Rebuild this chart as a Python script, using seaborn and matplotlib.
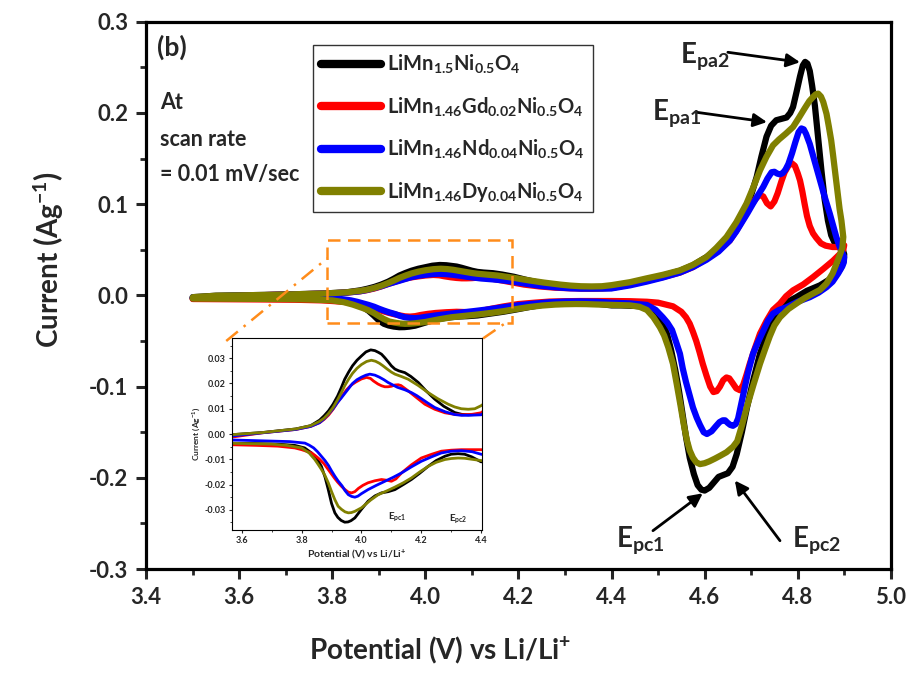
import numpy as np
import pandas as pd
import matplotlib
matplotlib.use("Agg")
import matplotlib.pyplot as plt
import seaborn as sns
from matplotlib.ticker import MultipleLocator, FormatStrFormatter
from matplotlib.patches import Rectangle

# ---------------- data ----------------
samples = ["LiMn1.5Ni0.5O4", "LiMn1.46Gd0.02Ni0.5O4", "LiMn1.46Nd0.04Ni0.5O4", "LiMn1.46Dy0.04Ni0.5O4"]
legend_labels = [r"$\mathbf{LiMn_{1.5}Ni_{0.5}O_4}$",
                 r"$\mathbf{LiMn_{1.46}Gd_{0.02}Ni_{0.5}O_4}$",
                 r"$\mathbf{LiMn_{1.46}Nd_{0.04}Ni_{0.5}O_4}$",
                 r"$\mathbf{LiMn_{1.46}Dy_{0.04}Ni_{0.5}O_4}$"]
colors = ["#000000", "#FF0000", "#0000FF", "#808000"]

# (potential V, current A/g) pairs; anodic sweep 3.5 -> 4.9 V, cathodic sweep 4.9 -> 3.5 V
black_anodic = [(3.50, -0.0020), (3.55, -0.0004), (3.67, 0.0006), (3.78, 0.0020), (3.83, 0.0033),
                (3.86, 0.0055), (3.875, 0.0072), (3.89, 0.0092), (3.905, 0.0118), (3.92, 0.0150),
                (3.932, 0.0182), (3.944, 0.0217), (3.957, 0.0245), (3.97, 0.0270), (3.985, 0.0292),
                (4.00, 0.0309), (4.015, 0.0325), (4.031, 0.0333), (4.045, 0.0330), (4.057, 0.0323),
                (4.067, 0.0316), (4.078, 0.0302), (4.09, 0.0285), (4.10, 0.0270), (4.112, 0.0257),
                (4.125, 0.0250), (4.145, 0.0243), (4.165, 0.0228), (4.19, 0.0204), (4.215, 0.0172),
                (4.245, 0.0138), (4.275, 0.0110), (4.312, 0.0085), (4.335, 0.0078), (4.357, 0.0076),
                (4.38, 0.0077), (4.40, 0.0081), (4.44, 0.0120), (4.475, 0.0170), (4.51, 0.0215),
                (4.547, 0.0270), (4.575, 0.0330), (4.604, 0.0420), (4.630, 0.0520), (4.654, 0.0640),
                (4.672, 0.0790), (4.690, 0.0970), (4.700, 0.110), (4.712, 0.130), (4.722, 0.152),
                (4.733, 0.174), (4.743, 0.186), (4.754, 0.192), (4.765, 0.1935), (4.776, 0.195),
                (4.784, 0.200), (4.790, 0.2065), (4.798, 0.224), (4.805, 0.240), (4.811, 0.252),
                (4.816, 0.256), (4.821, 0.254), (4.826, 0.246), (4.831, 0.230), (4.837, 0.208),
                (4.844, 0.172), (4.851, 0.137), (4.858, 0.105), (4.865, 0.082), (4.872, 0.066),
                (4.880, 0.057), (4.890, 0.052), (4.897, 0.050)]
black_cathodic = [(4.900, 0.045), (4.899, 0.038), (4.893, 0.030), (4.885, 0.024), (4.870, 0.018),
                  (4.848, 0.011), (4.820, 0.005), (4.797, -0.002), (4.775, -0.008), (4.762, -0.013),
                  (4.750, -0.022), (4.740, -0.035), (4.730, -0.048), (4.719, -0.064), (4.705, -0.092),
                  (4.691, -0.123), (4.680, -0.150), (4.669, -0.174), (4.660, -0.188), (4.650, -0.195),
                  (4.640, -0.197), (4.630, -0.199), (4.620, -0.205), (4.610, -0.211), (4.600, -0.214),
                  (4.593, -0.213), (4.585, -0.208), (4.577, -0.196), (4.568, -0.178), (4.560, -0.155),
                  (4.552, -0.128), (4.545, -0.105), (4.537, -0.082), (4.528, -0.060), (4.519, -0.042),
                  (4.505, -0.025), (4.489, -0.015), (4.47, -0.0125), (4.45, -0.0115), (4.42, -0.011),
                  (4.40, -0.011), (4.368, -0.0090), (4.345, -0.0080), (4.323, -0.0078), (4.30, -0.0080),
                  (4.279, -0.0088), (4.25, -0.0105), (4.223, -0.0128), (4.195, -0.0155), (4.167, -0.0180),
                  (4.14, -0.0200), (4.112, -0.0220), (4.09, -0.0228), (4.067, -0.0233), (4.045, -0.0245),
                  (4.022, -0.0266), (4.00, -0.0298), (3.978, -0.0332), (3.965, -0.0343), (3.955, -0.0348),
                  (3.944, -0.0349), (3.932, -0.0342), (3.921, -0.0330), (3.911, -0.0312), (3.90, -0.0275),
                  (3.889, -0.0220), (3.878, -0.0170), (3.866, -0.0128), (3.85, -0.0095), (3.833, -0.0075),
                  (3.81, -0.0055), (3.777, -0.0045), (3.72, -0.0040), (3.65, -0.0038), (3.55, -0.0036),
                  (3.50, -0.0035)]

red_anodic = [(3.50, -0.0030), (3.55, -0.0015), (3.67, 0.0005), (3.78, 0.0018), (3.83, 0.0030),
              (3.86, 0.0045), (3.875, 0.0058), (3.89, 0.0075), (3.905, 0.0098), (3.92, 0.0125),
              (3.935, 0.0150), (3.95, 0.0175), (3.965, 0.0193), (3.98, 0.0205), (4.00, 0.0218),
              (4.017, 0.0224), (4.03, 0.0220), (4.04, 0.0210), (4.055, 0.0198), (4.067, 0.0191),
              (4.078, 0.0187), (4.089, 0.0187), (4.10, 0.0189), (4.112, 0.0194), (4.123, 0.0195),
              (4.132, 0.0192), (4.14, 0.0185), (4.156, 0.0171), (4.18, 0.0148), (4.212, 0.0118),
              (4.245, 0.0098), (4.279, 0.0084), (4.31, 0.0078), (4.334, 0.0076), (4.37, 0.0078),
              (4.40, 0.0084), (4.44, 0.0120), (4.475, 0.0160), (4.51, 0.0200), (4.547, 0.0250),
              (4.575, 0.0310), (4.604, 0.0400), (4.630, 0.0490), (4.654, 0.0600), (4.672, 0.0740),
              (4.690, 0.0900), (4.700, 0.0990), (4.710, 0.1060), (4.718, 0.1100), (4.726, 0.1085),
              (4.734, 0.1010), (4.742, 0.0975), (4.750, 0.1030), (4.757, 0.1120), (4.765, 0.1250),
              (4.772, 0.1350), (4.780, 0.1420), (4.787, 0.1450), (4.794, 0.1420), (4.800, 0.1340),
              (4.805, 0.1260), (4.810, 0.1140), (4.815, 0.1000), (4.820, 0.0870), (4.826, 0.0760),
              (4.833, 0.0680), (4.840, 0.0630), (4.850, 0.0570), (4.860, 0.0545), (4.875, 0.0530),
              (4.894, 0.0530), (4.900, 0.0550)]
red_cathodic = [(4.898, 0.050), (4.890, 0.045), (4.876, 0.038), (4.855, 0.029), (4.833, 0.020),
                (4.812, 0.012), (4.790, 0.0055), (4.775, -0.001), (4.762, -0.009), (4.747, -0.016),
                (4.733, -0.028), (4.719, -0.042), (4.708, -0.058), (4.697, -0.075), (4.690, -0.087),
                (4.683, -0.098), (4.676, -0.104), (4.668, -0.102), (4.660, -0.096), (4.653, -0.091),
                (4.647, -0.090), (4.640, -0.093), (4.633, -0.100), (4.626, -0.105), (4.619, -0.106),
                (4.612, -0.100), (4.604, -0.088), (4.596, -0.075), (4.589, -0.062), (4.582, -0.050),
                (4.575, -0.040), (4.568, -0.031), (4.560, -0.024), (4.550, -0.018), (4.532, -0.012),
                (4.50, -0.008), (4.476, -0.007), (4.44, -0.0064), (4.40, -0.0062), (4.334, -0.0062),
                (4.30, -0.0064), (4.267, -0.0068), (4.235, -0.0080), (4.20, -0.0095), (4.167, -0.0122),
                (4.134, -0.0154), (4.115, -0.0178), (4.10, -0.0187), (4.085, -0.0183), (4.067, -0.0180),
                (4.045, -0.0185), (4.022, -0.0193), (4.005, -0.0203), (3.99, -0.0215), (3.978, -0.0228),
                (3.967, -0.0233), (3.956, -0.0230), (3.945, -0.0220), (3.933, -0.0207), (3.92, -0.0190),
                (3.91, -0.0175), (3.889, -0.0141), (3.875, -0.0118), (3.86, -0.0100), (3.845, -0.0085),
                (3.833, -0.0075), (3.80, -0.0062), (3.777, -0.0055), (3.72, -0.0048), (3.65, -0.0045),
                (3.55, -0.0042), (3.50, -0.0040)]

blue_anodic = [(3.50, -0.0030), (3.55, -0.0010), (3.67, 0.0005), (3.78, 0.0018), (3.83, 0.0030),
               (3.86, 0.0045), (3.875, 0.0060), (3.89, 0.0080), (3.905, 0.0100), (3.92, 0.0125),
               (3.932, 0.0142), (3.944, 0.0160), (3.957, 0.0180), (3.97, 0.0200), (3.985, 0.0215),
               (4.00, 0.0225), (4.015, 0.0233), (4.028, 0.0237), (4.045, 0.0233), (4.06, 0.0225),
               (4.075, 0.0215), (4.089, 0.0204), (4.105, 0.0194), (4.12, 0.0185), (4.145, 0.0175),
               (4.167, 0.0164), (4.185, 0.0152), (4.20, 0.0140), (4.22, 0.0124), (4.245, 0.0105),
               (4.28, 0.0088), (4.312, 0.0077), (4.335, 0.0074), (4.357, 0.0074), (4.38, 0.0075),
               (4.40, 0.0076), (4.44, 0.0110), (4.475, 0.0150), (4.51, 0.0195), (4.547, 0.0250),
               (4.575, 0.0310), (4.604, 0.0390), (4.630, 0.0480), (4.654, 0.0600), (4.668, 0.0700),
               (4.680, 0.0800), (4.692, 0.0900), (4.704, 0.1006), (4.715, 0.1100), (4.726, 0.1190),
               (4.735, 0.1280), (4.744, 0.1350), (4.750, 0.1355), (4.756, 0.1335), (4.762, 0.1327),
               (4.768, 0.1340), (4.774, 0.1380), (4.780, 0.1440), (4.788, 0.1560), (4.795, 0.1680),
               (4.802, 0.1790), (4.808, 0.1830), (4.813, 0.1820), (4.818, 0.1770), (4.826, 0.1660),
               (4.837, 0.1460), (4.848, 0.1260), (4.858, 0.1080), (4.869, 0.0896), (4.876, 0.0770),
               (4.883, 0.0640), (4.889, 0.0550), (4.894, 0.0490), (4.900, 0.0420)]
blue_cathodic = [(4.899, 0.036), (4.896, 0.032), (4.887, 0.024), (4.875, 0.015), (4.862, 0.009),
                 (4.845, 0.003), (4.826, -0.002), (4.80, -0.007), (4.776, -0.013), (4.760, -0.016),
                 (4.747, -0.020), (4.736, -0.028), (4.725, -0.040), (4.714, -0.052), (4.704, -0.064),
                 (4.693, -0.085), (4.682, -0.111), (4.676, -0.125), (4.672, -0.135), (4.667, -0.141),
                 (4.661, -0.143), (4.655, -0.142), (4.650, -0.140), (4.644, -0.137), (4.639, -0.137),
                 (4.632, -0.139), (4.625, -0.143), (4.615, -0.149), (4.605, -0.152), (4.598, -0.150),
                 (4.590, -0.142), (4.583, -0.134), (4.575, -0.123), (4.568, -0.110), (4.560, -0.095),
                 (4.553, -0.080), (4.547, -0.064), (4.538, -0.050), (4.530, -0.038), (4.520, -0.030),
                 (4.510, -0.024), (4.495, -0.016), (4.476, -0.0105), (4.44, -0.0088), (4.40, -0.0080),
                 (4.37, -0.0070), (4.334, -0.0066), (4.30, -0.0068), (4.267, -0.0075), (4.235, -0.0090),
                 (4.20, -0.0108), (4.167, -0.0130), (4.134, -0.0154), (4.105, -0.0172), (4.078, -0.0187),
                 (4.05, -0.0203), (4.022, -0.0220), (4.00, -0.0236), (3.988, -0.0246), (3.978, -0.0250),
                 (3.967, -0.0247), (3.956, -0.0240), (3.945, -0.0224), (3.935, -0.0205), (3.922, -0.0186),
                 (3.911, -0.0167), (3.90, -0.0146), (3.89, -0.0125), (3.878, -0.0105), (3.866, -0.0088),
                 (3.853, -0.0070), (3.84, -0.0055), (3.825, -0.0044), (3.811, -0.0036), (3.76, -0.0030),
                 (3.70, -0.0028), (3.55, -0.0023), (3.50, -0.0022)]

olive_anodic = [(3.50, -0.0020), (3.55, -0.0004), (3.67, 0.0006), (3.78, 0.0020), (3.83, 0.0033),
                (3.86, 0.0050), (3.875, 0.0063), (3.889, 0.0080), (3.905, 0.0105), (3.92, 0.0135),
                (3.932, 0.0162), (3.944, 0.0191), (3.957, 0.0217), (3.97, 0.0240), (3.985, 0.0260),
                (4.00, 0.0275), (4.017, 0.0287), (4.033, 0.0292), (4.047, 0.0288), (4.06, 0.0280),
                (4.072, 0.0270), (4.085, 0.0258), (4.10, 0.0245), (4.112, 0.0237), (4.135, 0.0227),
                (4.156, 0.0217), (4.19, 0.0192), (4.223, 0.0164), (4.255, 0.0140), (4.29, 0.0118),
                (4.312, 0.0107), (4.334, 0.0100), (4.357, 0.0098), (4.379, 0.0100), (4.40, 0.0112),
                (4.44, 0.0145), (4.475, 0.0186), (4.51, 0.0225), (4.547, 0.0274), (4.575, 0.0335),
                (4.604, 0.0420), (4.625, 0.0520), (4.647, 0.0640), (4.668, 0.0800), (4.690, 0.1006),
                (4.705, 0.1190), (4.719, 0.1370), (4.733, 0.1520), (4.747, 0.1645), (4.760, 0.1710),
                (4.775, 0.1775), (4.790, 0.1846), (4.803, 0.1950), (4.815, 0.2050), (4.825, 0.2130),
                (4.833, 0.2175), (4.839, 0.2205), (4.844, 0.2212), (4.850, 0.2180), (4.855, 0.2120),
                (4.862, 0.1990), (4.867, 0.1850), (4.872, 0.1700), (4.876, 0.1540), (4.880, 0.1370),
                (4.885, 0.1150), (4.890, 0.0950), (4.894, 0.0820), (4.898, 0.0640)]
olive_cathodic = [(4.896, 0.052), (4.886, 0.038), (4.875, 0.024), (4.862, 0.013), (4.848, 0.006),
                  (4.833, 0.002), (4.815, -0.003), (4.80, -0.008), (4.78, -0.015), (4.762, -0.024),
                  (4.750, -0.033), (4.740, -0.045), (4.730, -0.059), (4.719, -0.075), (4.705, -0.098),
                  (4.691, -0.122), (4.680, -0.143), (4.670, -0.160), (4.661, -0.166), (4.647, -0.172),
                  (4.633, -0.176), (4.622, -0.179), (4.610, -0.182), (4.600, -0.184), (4.590, -0.185),
                  (4.582, -0.183), (4.575, -0.178), (4.568, -0.170), (4.562, -0.159), (4.555, -0.141),
                  (4.548, -0.120), (4.540, -0.097), (4.532, -0.075), (4.522, -0.057), (4.513, -0.044),
                  (4.504, -0.035), (4.49, -0.024), (4.476, -0.016), (4.46, -0.0125), (4.44, -0.011),
                  (4.40, -0.0105), (4.368, -0.0100), (4.345, -0.0096), (4.323, -0.0095), (4.30, -0.0097),
                  (4.279, -0.0101), (4.25, -0.0112), (4.223, -0.0128), (4.195, -0.0150), (4.167, -0.0174),
                  (4.14, -0.0193), (4.112, -0.0210), (4.085, -0.0225), (4.056, -0.0240), (4.03, -0.0262),
                  (4.00, -0.0292), (3.978, -0.0306), (3.966, -0.0311), (3.956, -0.0312), (3.945, -0.0308),
                  (3.933, -0.0298), (3.922, -0.0286), (3.911, -0.0260), (3.90, -0.0228), (3.889, -0.0193),
                  (3.877, -0.0162), (3.866, -0.0140), (3.855, -0.0120), (3.844, -0.0101), (3.825, -0.0075),
                  (3.80, -0.0055), (3.75, -0.0045), (3.70, -0.0040), (3.55, -0.0036), (3.50, -0.0035)]

loops = [black_anodic + black_cathodic, red_anodic + red_cathodic,
         blue_anodic + blue_cathodic, olive_anodic + olive_cathodic]

frames = []
for s, pts in zip(samples, loops):
    frames.append(pd.DataFrame({"V": [p[0] for p in pts], "I": [p[1] for p in pts], "sample": s}))
df = pd.concat(frames, ignore_index=True)

# ---------------- style ----------------
sns.set_theme(style="ticks")
plt.rcParams["font.family"] = ["Lato", "DejaVu Sans"]
plt.rcParams["font.weight"] = "bold"
plt.rcParams["mathtext.fontset"] = "custom"
plt.rcParams["mathtext.rm"] = "Lato:bold"
plt.rcParams["mathtext.bf"] = "Lato:bold"
plt.rcParams["mathtext.it"] = "Lato:bold"

fig = plt.figure(figsize=(9.08, 6.79), dpi=100)
ax = fig.add_axes([0.161, 0.162, 0.820, 0.806])

sns.lineplot(data=df, x="V", y="I", hue="sample", hue_order=samples, palette=colors,
             sort=False, estimator=None, lw=4.5, legend=False, ax=ax,
             solid_capstyle="round", solid_joinstyle="round")

ax.set_xlim(3.4, 5.0)
ax.set_ylim(-0.3, 0.3)
ax.xaxis.set_major_locator(MultipleLocator(0.2))
ax.xaxis.set_minor_locator(MultipleLocator(0.1))
ax.yaxis.set_major_locator(MultipleLocator(0.1))
ax.yaxis.set_minor_locator(MultipleLocator(0.05))
ax.xaxis.set_major_formatter(FormatStrFormatter("%.1f"))
ax.yaxis.set_major_formatter(FormatStrFormatter("%.1f"))
for sp in ax.spines.values():
    sp.set_linewidth(2.3)
    sp.set_color("black")
ax.tick_params(which="major", direction="out", length=7, width=2.2, labelsize=16, pad=6,
               top=False, right=False)
ax.tick_params(which="minor", direction="out", length=4, width=2.0, top=False, right=False)
for lab in ax.get_xticklabels() + ax.get_yticklabels():
    lab.set_fontweight("bold")

ax.set_xlabel(r"Potential (V) vs Li/Li$^{+}$", fontsize=20, fontweight="bold")
ax.set_ylabel(r"Current $\left(\mathbf{Ag}^{\mathbf{-1}}\right)$", fontsize=20, fontweight="bold")
ax.xaxis.set_label_coords(0.395, -0.12)
ax.yaxis.set_label_coords(-0.108, 0.565)

leg = ax.legend(handles=ax.lines[:4], labels=legend_labels, loc="upper left",
                bbox_to_anchor=(0.224, 0.958), borderaxespad=0, frameon=True, fancybox=False,
                edgecolor="black", fontsize=14.5, handlelength=3.0, handletextpad=0.3,
                labelspacing=0.95, borderpad=0.4)
leg.get_frame().set_linewidth(1.0)
for ln in leg.get_lines():
    ln.set_linewidth(6)

ax.text(0.015, 0.954, "(b)", transform=ax.transAxes, fontsize=19, fontweight="bold", va="center")
ax.text(0.019, 0.852, "At", transform=ax.transAxes, fontsize=15.5, fontweight="bold", va="center")
ax.text(0.019, 0.784, "scan rate", transform=ax.transAxes, fontsize=15.5, fontweight="bold", va="center")
ax.text(0.019, 0.720, "= 0.01 mV/sec", transform=ax.transAxes, fontsize=15.5, fontweight="bold", va="center")

arrow = dict(arrowstyle="-|>", lw=2, color="black", mutation_scale=20, shrinkA=0, shrinkB=0)
ax.annotate("", xy=(4.805, 0.2556), xytext=(4.650, 0.2665), arrowprops=arrow)
ax.annotate("", xy=(4.734, 0.190), xytext=(4.583, 0.2007), arrowprops=arrow)
ax.annotate("", xy=(4.596, -0.217), xytext=(4.489, -0.258), arrowprops=arrow)
ax.annotate("", xy=(4.665, -0.203), xytext=(4.762, -0.269), arrowprops=arrow)
ax.text(4.548, 0.262, r"$\mathbf{E_{pa2}}$", fontsize=20, va="center", ha="left")
ax.text(4.486, 0.200, r"$\mathbf{E_{pa1}}$", fontsize=20, va="center", ha="left")
ax.text(4.410, -0.268, r"$\mathbf{E_{pc1}}$", fontsize=20, va="center", ha="left")
ax.text(4.788, -0.268, r"$\mathbf{E_{pc2}}$", fontsize=20, va="center", ha="left")

# zoom box and connectors
orange = "#FF8C1A"
ax.add_patch(Rectangle((3.788, -0.0304), 0.399, 0.0907, fill=False, ls=(0, (5, 3)),
                       lw=1.8, edgecolor=orange, zorder=5))
ax.plot([3.572, 3.789], [-0.050, 0.0406], ls=(0, (6, 3, 1, 3)), lw=1.8, color=orange, zorder=5)
ax.plot([4.124, 4.171], [-0.0472, -0.0307], ls=(0, (6, 3, 1, 3)), lw=1.8, color=orange, zorder=5)

# ---------------- inset ----------------
axin = fig.add_axes([0.2555, 0.2194, 0.2753, 0.2828])
axin.set_facecolor("white")
sns.lineplot(data=df, x="V", y="I", hue="sample", hue_order=samples, palette=colors,
             sort=False, estimator=None, lw=2.0, legend=False, ax=axin,
             solid_joinstyle="round")
axin.set_xlim(3.567, 4.403)
axin.set_ylim(-0.038, 0.038)
axin.xaxis.set_major_locator(MultipleLocator(0.2))
axin.xaxis.set_minor_locator(MultipleLocator(0.1))
axin.yaxis.set_major_locator(MultipleLocator(0.01))
axin.yaxis.set_minor_locator(MultipleLocator(0.005))
axin.xaxis.set_major_formatter(FormatStrFormatter("%.1f"))
axin.yaxis.set_major_formatter(FormatStrFormatter("%.2f"))
for sp in axin.spines.values():
    sp.set_linewidth(0.8)
    sp.set_color("black")
axin.tick_params(which="major", direction="out", length=2.5, width=0.8, labelsize=6.5, pad=2)
axin.tick_params(which="minor", direction="out", length=1.5, width=0.6)
for lab in axin.get_xticklabels() + axin.get_yticklabels():
    lab.set_fontweight("bold")
axin.set_xlabel(r"Potential (V) vs Li/Li$^{+}$", fontsize=7.5, fontweight="bold", labelpad=2)
axin.set_ylabel(r"Current (Ag$^{-1}$)", fontsize=6, fontweight="bold", labelpad=2)
axin.text(4.118, -0.0332, r"$\mathbf{E_{pc1}}$", fontsize=7, ha="center", va="center")
axin.text(4.323, -0.0338, r"$\mathbf{E_{pc2}}$", fontsize=7, ha="center", va="center")

fig.savefig("out.png", dpi=100)
